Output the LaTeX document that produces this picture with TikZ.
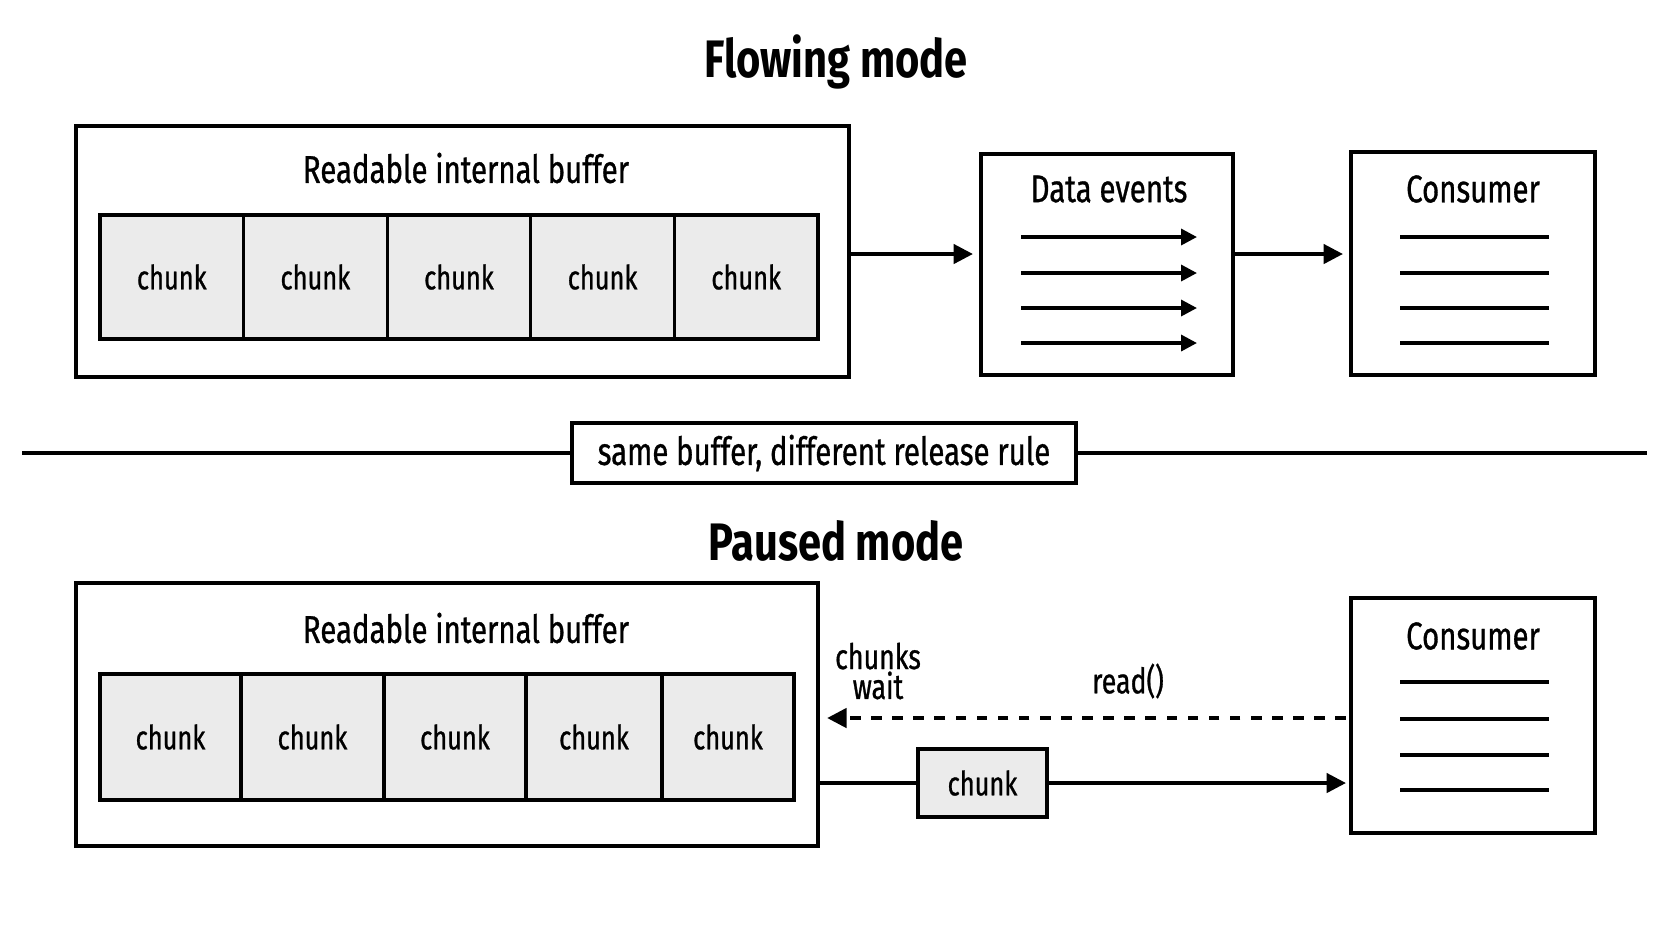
\documentclass[tikz,border=0pt]{standalone}
\usepackage{fontspec}
\setmainfont{Fira Sans}[FakeStretch=0.76,FakeBold=0.8,BoldFeatures={FakeStretch=0.79,FakeBold=0}]
\usetikzlibrary{arrows.meta}
\begin{document}
\begin{tikzpicture}[x=0.01cm,y=-0.01cm,
    box/.style={draw,line width=1.1pt,inner sep=0pt,outer sep=0pt},
    chunkbox/.style={draw,line width=0.9pt,fill=black!8,inner sep=0pt,outer sep=0pt,font=\fontsize{9.5}{11}\selectfont},
    heading/.style={font=\fontsize{11}{13}\selectfont},
    arr/.style={line width=1pt,-{Triangle[length=5.5pt,width=5.5pt]}},
    small arr/.style={line width=1pt,-{Triangle[length=4.5pt,width=4.5pt]}}]
    \useasboundingbox (0,0) rectangle (1672,941);
    % flowing mode
    \node[font=\fontsize{15}{17}\bfseries] (flowtitle) at (836,62) {Flowing mode};
    \node[box,minimum width=7.73cm,minimum height=2.51cm] (buf1) at (462.5,251.5) {};
    \node[heading] (buf1lab) at (466,168) {Readable internal buffer};
    \foreach \i in {0,...,4} \node[chunkbox,minimum width=1.436cm,minimum height=1.24cm] (c1\i) at (171.8+143.6*\i,277) {chunk};
    \node[box,minimum width=2.52cm,minimum height=2.21cm] (ev) at (1107,264.5) {};
    \node[heading] (evlab) at (1109,189) {Data events};
    \foreach \y in {237,273,308,343} \draw[small arr] (1021,\y) -- (1197,\y);
    \node[box,minimum width=2.44cm,minimum height=2.23cm] (cons1) at (1473,263.5) {};
    \node[heading] (cons1lab) at (1473,189) {Consumer};
    \foreach \y in {237,273,308,343} \draw[line width=1pt] (1400,\y) -- (1549,\y);
    \draw[arr] (buf1.east |- 0,254) -- ([xshift=-0.08cm]ev.west |- 0,254);
    \draw[arr] (ev.east |- 0,254) -- ([xshift=-0.08cm]cons1.west |- 0,254);
    % separator
    \node[box,line width=1pt,minimum width=5.04cm,minimum height=0.6cm,heading] (rule) at (824,453) {same buffer, different release rule};
    \coordinate (sepL) at (22,453); \coordinate (sepR) at (1647,453);
    \draw[line width=1pt] (sepL) -- (rule.west); \draw[line width=1pt] (rule.east) -- (sepR);
    % paused mode
    \node[font=\fontsize{15}{17}\bfseries] (pausetitle) at (836,541) {Paused mode};
    \node[box,minimum width=7.42cm,minimum height=2.63cm] (buf2) at (447,714.5) {};
    \node[heading] (buf2lab) at (466,628) {Readable internal buffer};
    \foreach \a/\b [count=\i] in {100/241,241/384,384/526,526/662,662/794}
      \node[chunkbox,minimum width={(\b-\a)*0.01cm},minimum height=1.26cm] (c2\i) at ({(\a+\b)/2},737) {chunk};
    \node[box,minimum width=2.44cm,minimum height=2.35cm] (cons2) at (1473,715.5) {};
    \node[heading] (cons2lab) at (1473,636) {Consumer};
    \foreach \y in {682,719,755,790} \draw[line width=1pt] (1400,\y) -- (1549,\y);
    \node[font=\fontsize{10}{8.5}\selectfont,align=center] (wait) at (878,671) {chunks\\wait};
    \node[font=\fontsize{10}{12}\selectfont] (readlab) at (1128,681) {read()};
    \draw[arr,dashed] ([xshift=-0.05cm]cons2.west |- 0,718) -- ([xshift=0.09cm]buf2.east |- 0,718);
    \node[chunkbox,line width=1pt,minimum width=1.29cm,minimum height=0.68cm] (pk) at (982.5,783) {chunk};
    \draw[line width=1pt] (buf2.east |- pk.west) -- (pk.west);
    \draw[arr] (pk.east) -- ([xshift=-0.05cm]cons2.west |- pk.east);
\end{tikzpicture}
\end{document}
